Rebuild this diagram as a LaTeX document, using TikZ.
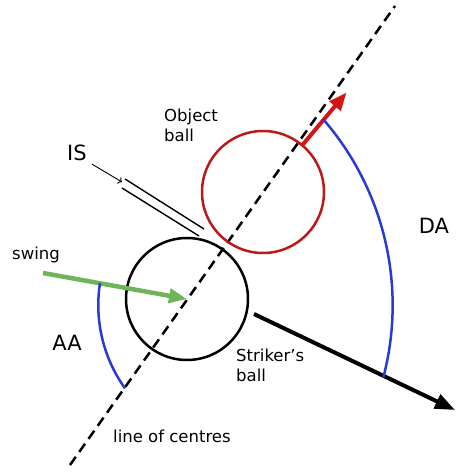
\documentclass[tikz,border=0pt]{standalone}
\usepackage{fontspec}
\setmainfont{DejaVu Sans}
\usetikzlibrary{positioning}
\usetikzlibrary{calc, arrows.meta}

\definecolor{objred}{RGB}{190,25,25}
\definecolor{arrowred}{RGB}{215,20,20}
\definecolor{arcblue}{RGB}{40,60,210}
\definecolor{swinggreen}{RGB}{110,180,90}

\begin{document}
\begin{tikzpicture}[x=1pt, y=1pt]
	\tikzstyle{ball}=[circle, draw, line width=2.5pt, minimum size=122pt, inner sep=0pt]
	\tikzstyle{txt}=[font=\fontsize{16.5}{19.5}\selectfont, inner sep=0pt, align=left]
	\tikzstyle{big}=[font=\fontsize{21}{24}\selectfont, inner sep=0pt]
	\tikzstyle{anglearc}=[draw=arcblue, line width=2.5pt]
	\useasboundingbox (0,0) rectangle (470,475);

	% line of centres
	\coordinate (lowEnd) at (70,10);
	\coordinate (highEnd) at (395,469);
	\draw[dash pattern=on 10pt off 6pt, line width=2.5pt] (lowEnd) -- (highEnd);

	\node[ball] (striker) at (187,176) {};
	\node[ball, draw=objred] (object) at (263,283) {};

	% impact surface
	\coordinate (isA) at (125,296);
	\coordinate (isB) at (204,246);
	\coordinate (isC) at (122,287);
	\coordinate (isD) at (199,239);
	\draw[line width=1.4pt] (isA) -- (isB);
	\draw[line width=1.4pt] (isC) -- (isD);
	\node[big] (isLabel) at (77,322) {IS};
	\coordinate (isTip) at (122,293);
	\draw[->, line width=0.9pt, shorten <=6pt] (isLabel.south east) -- (isTip);

	% swing
	\coordinate (swingStart) at (43,202);
	\draw[-{Triangle[length=18pt, width=14pt]}, draw=swinggreen, fill=swinggreen, line width=4.5pt] (swingStart) -- (striker.center);
	\node[txt, anchor=base west] (swingLabel) at (12,215) {swing};

	% after impact
	\coordinate (strikerOut) at ($(striker)+(67,-15)$);
	\coordinate (strikerTip) at (455,65);
	\draw[-{Triangle[length=20pt, width=15pt]}, line width=4pt] (strikerOut) -- (strikerTip);
	\coordinate (objectOut) at ($(object)+(50:62)$);
	\coordinate (objectTip) at ($(object)+(50:130)$);
	\draw[-{Triangle[length=18pt, width=14pt]}, draw=arrowred, fill=arrowred, line width=4pt] (objectOut) -- (objectTip);

	% angles
	\coordinate (aaStart) at (100,192);
	\draw[anglearc] (aaStart) arc[start angle=171.1, end angle=215.6, radius=143];
	\node[big] (aaLabel) at (67,132) {AA};
	\coordinate (daStart) at (323,356);
	\draw[anglearc] (daStart) arc[start angle=41, end angle=-14.7, radius=284];
	\node[big] (daLabel) at (434,249) {DA};

	\node[txt, anchor=north west] (objectLabel) at (164,366) {Object\\ball};
	\node[txt, anchor=north west] (strikerLabel) at (236,126) {Striker’s\\ball};
	\node[txt, anchor=base west] (centresLabel) at (113,33) {line of centres};
\end{tikzpicture}
\end{document}
